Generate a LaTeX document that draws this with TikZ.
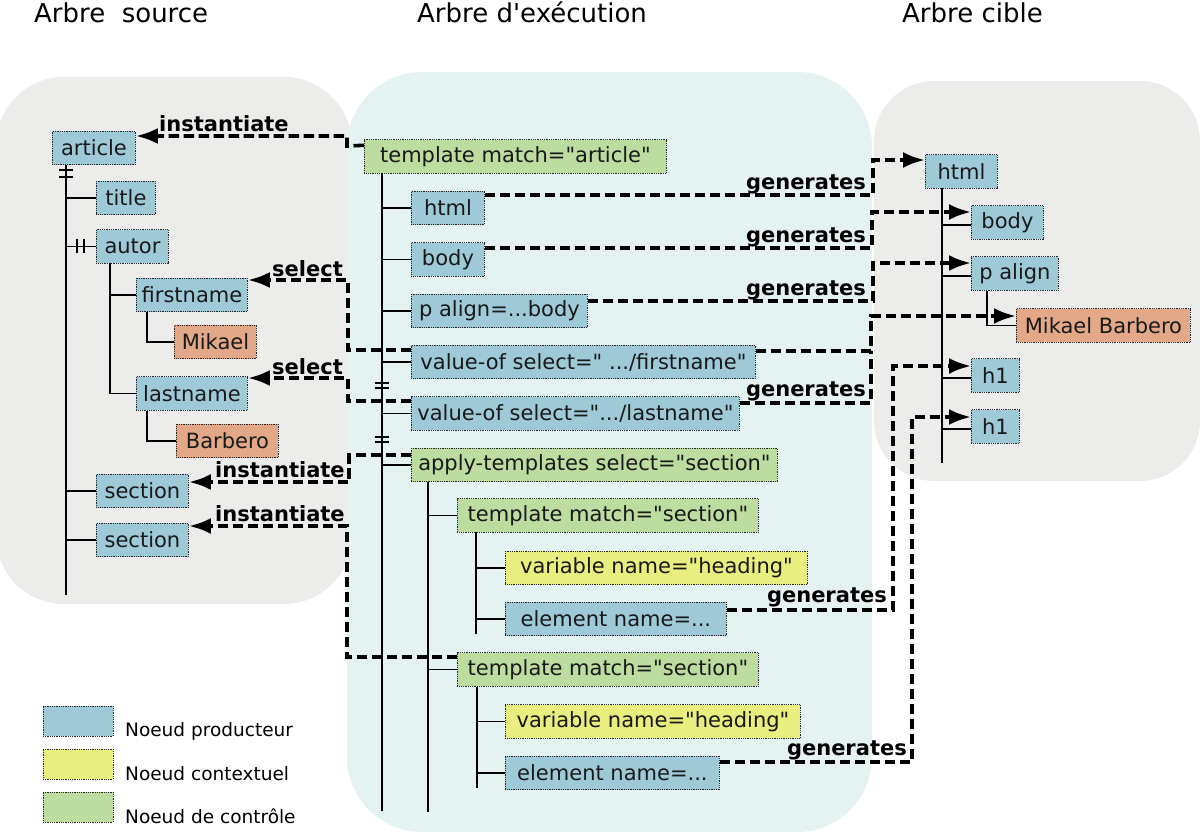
\documentclass[tikz,border=0pt]{standalone}
\usepackage{fontspec}
\setmainfont{DejaVu Sans}[Ligatures=TeXOff]
\usetikzlibrary{arrows.meta}
\definecolor{cblue}{HTML}{9ECAD8}
\definecolor{cgreen}{HTML}{BDDC9F}
\definecolor{cyellow}{HTML}{E8EF7F}
\definecolor{corange}{HTML}{E2A888}
\definecolor{pgray}{HTML}{ECECEA}
\definecolor{pmid}{HTML}{E5F2F2}
\begin{document}
\begin{tikzpicture}[x=1pt,y=-1pt,
  box/.style={draw=black!85, line width=0.9pt, dash pattern=on 0.9pt off 0.9pt,
    minimum height=33.5pt, inner xsep=3pt, inner ysep=0pt, anchor=west,
    font=\fontsize{21}{24}\selectfont, text=black!90},
  pblue/.style={box, fill=cblue},
  pgreen/.style={box, fill=cgreen},
  pyellow/.style={box, fill=cyellow},
  porange/.style={box, fill=corange},
  tline/.style={line width=1.3pt, black},
  dline/.style={line width=3.6pt, dash pattern=on 10.5pt off 4.5pt, -{Latex[length=22pt,width=16pt]}},
  dnone/.style={line width=3.6pt, dash pattern=on 10.5pt off 4.5pt},
  lbl/.style={font=\fontsize{21}{24}\selectfont\bfseries, inner sep=0pt},
  ttl/.style={font=\fontsize{26}{30}\selectfont, inner sep=0pt, anchor=base west},
  legbox/.style={draw=black!85, line width=0.9pt, dash pattern=on 0.9pt off 0.9pt,
    minimum width=70pt, minimum height=30pt, inner sep=0pt},
  legtxt/.style={font=\fontsize{18.5}{21}\selectfont, inner sep=0pt, anchor=base west}]
\useasboundingbox (0,0) rectangle (1200,833);
% panels
\fill[pgray, rounded corners=68pt] (-4,77) rectangle (352,604);
\fill[pgray, rounded corners=60pt] (874,81) rectangle (1200,481);
\fill[pmid, rounded corners=75pt] (347,72) rectangle (872,832);
% titles
\node[ttl] (t1) at (34,22) {Arbre\ \ source};
\node[ttl] (t2) at (417,22) {Arbre d'exécution};
\node[ttl] (t3) at (902,22) {Arbre cible};
% ---------- source tree
\node[pblue, minimum width=83pt] (art) at (52,148) {article};
\node[pblue, minimum width=59pt] (title) at (96,198) {title};
\node[pblue, minimum width=72pt] (autor) at (96,246.5) {autor};
\node[pblue, minimum width=111pt] (first) at (136,295) {firstname};
\node[porange, minimum width=82pt] (mik) at (174,342) {Mikael};
\node[pblue, minimum width=111pt] (last) at (136,393.5) {lastname};
\node[porange, minimum width=102pt] (barb) at (176,441) {Barbero};
\node[pblue, minimum width=92pt] (sec1) at (96,491) {section};
\node[pblue, minimum width=92pt] (sec2) at (96,540) {section};
\coordinate (lsT) at (66,165);
\coordinate (lsB) at (66,595);
\draw[tline] (lsT) -- (lsB);
\foreach \n in {title,autor,sec1,sec2} \draw[tline] (\n.west) -- (\n.west -| lsT);
\coordinate (asT) at (110,263);
\draw[tline] (asT) -- (last.west -| asT) -- (last.west);
\draw[tline] (first.west) -- (first.west -| asT);
\draw[tline] (first.south -| 147,0) -- (mik.west -| 147,0) -- (mik.west);
\draw[tline] (last.south -| 147,0) -- (barb.west -| 147,0) -- (barb.west);
\draw[line width=1.2pt] (59,170) -- (73,170) (59,177) -- (73,177);
\draw[line width=1.2pt] (77,239) -- (77,253) (84,239) -- (84,253);
% ---------- execution tree
\node[pgreen, minimum width=302pt] (tart) at (364,156.5) {template match="article"};
\node[pblue, minimum width=73pt] (mhtml) at (411,208) {html};
\node[pblue, minimum width=73pt] (mbody) at (411,259.5) {body};
\node[pblue, minimum width=176pt] (malign) at (411,311) {p align=...body};
\node[pblue, minimum width=344pt] (vfirst) at (411,362) {value-of select=" .../firstname"};
\node[pblue, minimum width=328pt] (vlast) at (411,413.5) {value-of select=".../lastname"};
\node[pgreen, minimum width=366pt] (apply) at (411,465) {apply-templates select="section"};
\node[pgreen, minimum width=301pt] (tsec1) at (457,515.5) {template match="section"};
\node[pyellow, minimum width=302pt] (var1) at (505,568) {variable name="heading"};
\node[pblue, minimum width=221pt] (el1) at (505,619) {element name=...};
\node[pgreen, minimum width=301pt] (tsec2) at (457,669.5) {template match="section"};
\node[pyellow, minimum width=295pt] (var2) at (505,721.5) {variable name="heading"};
\node[pblue, minimum width=214pt] (el2) at (505,773) {element name=...};
\coordinate (msT) at (382,173);
\coordinate (msB) at (382,811);
\draw[tline] (msT) -- (msB);
\foreach \n in {mhtml,mbody,malign,vfirst,vlast,apply} \draw[tline] (\n.west) -- (\n.west -| msT);
\coordinate (apT) at (428,482);
\coordinate (apB) at (428,812);
\draw[tline] (apT) -- (apB);
\foreach \n in {tsec1,tsec2} \draw[tline] (\n.west) -- (\n.west -| apT);
\coordinate (t1T) at (476,532);
\draw[tline] (t1T) -- (476,634);
\foreach \n in {var1,el1} \draw[tline] (\n.west) -- (\n.west -| t1T);
\coordinate (t2T) at (477,687);
\draw[tline] (t2T) -- (477,788);
\foreach \n in {var2,el2} \draw[tline] (\n.west) -- (\n.west -| t2T);
\draw[line width=1.2pt] (375,383) -- (389,383) (375,388) -- (389,388);
\draw[line width=1.2pt] (375,437) -- (389,437) (375,442) -- (389,442);
% ---------- target tree
\node[pblue, minimum width=72pt] (rhtml) at (925,171.5) {html};
\node[pblue, minimum width=72pt] (rbody) at (971,222.5) {body};
\node[pblue, minimum width=87pt] (ralign) at (971,273.5) {p align};
\node[porange, minimum width=174pt] (rmb) at (1016,325.5) {Mikael Barbero};
\node[pblue, minimum width=48pt] (rh1a) at (971,375.5) {h1};
\node[pblue, minimum width=48pt] (rh1b) at (971,426.5) {h1};
\coordinate (rsT) at (942,188);
\coordinate (rsB) at (942,463);
\draw[tline] (rsT) -- (rsB);
\foreach \n in {rbody,ralign,rh1a,rh1b} \draw[tline] ([yshift=-2.5pt]\n.west) -- ([yshift=-2.5pt]\n.west -| rsT);
\draw[tline] (ralign.south -| 987,0) -- (rmb.west -| 987,0) -- (rmb.west);
% ---------- instantiate / select
\draw[dline] ([yshift=-6pt]tart.north west) -- (347,146) -- (347,136) -- ([yshift=12pt]art.east);
\node[lbl, anchor=base west] (l1) at (159,131) {instantiate};
\draw[dline] ([yshift=12pt]vfirst.west) -- (348,350) -- (348,280) -- ([yshift=15pt]first.east);
\node[lbl, anchor=base west] (l2) at (272,276) {select};
\draw[dline] ([yshift=12.5pt]vlast.west) -- (348,401) -- (348,378) -- ([yshift=15.5pt]last.east);
\node[lbl, anchor=base west] (l3) at (272,374) {select};
\draw[dline] ([yshift=10pt]apply.west) -- (349,455) -- (349,482) -- ([yshift=9pt]sec1.east);
\node[lbl, anchor=base west] (l4) at (215,477) {instantiate};
\draw[dline] ([yshift=12.5pt]tsec2.west) -- (347,657) -- (347,526) -- ([yshift=14pt]sec2.east);
\node[lbl, anchor=base west] (l5) at (215,521) {instantiate};
% ---------- generates
\draw[dline] ([yshift=13pt]mhtml.east) -- (873,195) -- (873,160) -- ([yshift=11.5pt]rhtml.west);
\node[lbl, anchor=base east] (g1) at (866,189) {generates};
\draw[dline] ([yshift=11.5pt]mbody.east) -- (872,248) -- (872,212) -- ([yshift=10.5pt]rbody.west);
\node[lbl, anchor=base east] (g2) at (866,242) {generates};
\draw[dline] ([yshift=10pt]malign.east) -- (873,301) -- (873,263) -- ([yshift=10.5pt]ralign.west);
\node[lbl, anchor=base east] (g3) at (866,295) {generates};
\coordinate (jmb) at (871,351);
\draw[dline] ([yshift=11pt]vfirst.east) -- (jmb) -- (871,316) -- ([yshift=9.5pt]rmb.west);
\draw[dnone] ([yshift=10.5pt]vlast.east) -- (871,403) -- (jmb);
\node[lbl, anchor=base east] (g4) at (866,396) {generates};
\draw[dline] ([yshift=9pt]el1.east) -- (893,610) -- (893,366) -- ([yshift=9.5pt]rh1a.west);
\node[lbl, anchor=base east] (g5) at (887,602) {generates};
\draw[dline] ([yshift=11pt]el2.east) -- (912,762) -- (912,417) -- ([yshift=9.5pt]rh1b.west);
\node[lbl, anchor=base east] (g6) at (907,755) {generates};
% ---------- legend
\node[legbox, fill=cblue] (lg1) at (78,721) {};
\node[legbox, fill=cyellow] (lg2) at (78,764) {};
\node[legbox, fill=cgreen] (lg3) at (78,807) {};
\node[legtxt] (lt1) at (125,736) {Noeud producteur};
\node[legtxt] (lt2) at (125,780) {Noeud contextuel};
\node[legtxt] (lt3) at (125,823) {Noeud de contrôle};
\end{tikzpicture}
\end{document}
